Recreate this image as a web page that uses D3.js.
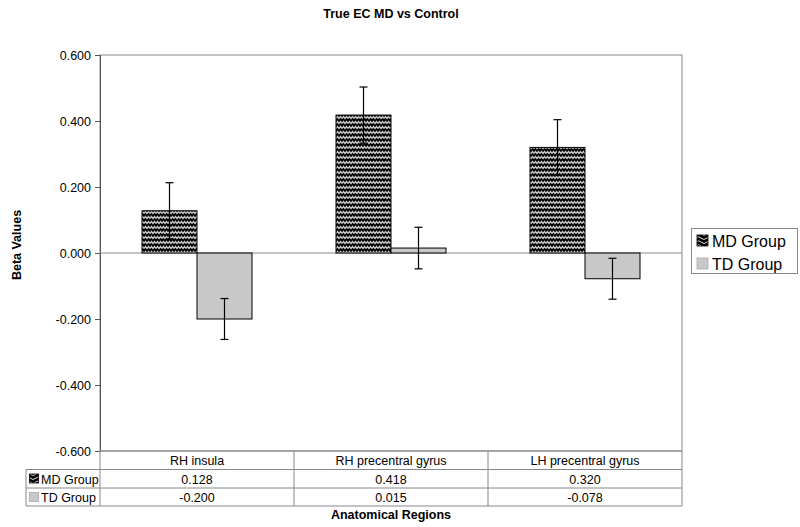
<!DOCTYPE html>
<html>
<head>
<meta charset="utf-8">
<script src="https://cdn.jsdelivr.net/npm/d3@7"></script>
<style>
body{margin:0;background:#fff;}
text{font-family:"Liberation Sans",Arial,sans-serif;}
</style>
</head>
<body>
<svg id="chart" width="800" height="527"></svg>
<script>
const categories = ["RH insula", "RH precentral gyrus", "LH precentral gyrus"];
const seriesNames = ["MD Group", "TD Group"];
const mdValues = [0.128, 0.418, 0.320];
const tdValues = [-0.200, 0.015, -0.078];
const mdErrors = [0.085, 0.085, 0.084];
const tdErrors = [0.062, 0.063, 0.062];
const yTicks = [0.6, 0.4, 0.2, 0.0, -0.2, -0.4, -0.6];

(function(){
const svg = d3.select("#chart");
const pL = 100, pR = 682, pT = 55, pB = 451;
const fmt = v => d3.format(".3f")(v).replace("\u2212","-");

const defs = svg.append("defs");
const pat = defs.append("pattern").attr("id","wave").attr("patternUnits","userSpaceOnUse")
  .attr("width",6).attr("height",5);
pat.append("rect").attr("width",6).attr("height",5).attr("fill","#000");
pat.append("path").attr("d","M0,3.5 L1.5,1.5 L3,3.5 L4.5,1.5 L6,3.5").attr("stroke","#999").attr("stroke-width",1.4).attr("fill","none");
pat.append("path").attr("d","M0,3.5 L1.5,1.5 L3,3.5 L4.5,1.5 L6,3.5").attr("stroke","#fff").attr("stroke-width",0.6).attr("fill","none");

const pat2 = defs.append("pattern").attr("id","chev").attr("patternUnits","userSpaceOnUse")
  .attr("width",11).attr("height",4);
pat2.append("rect").attr("width",11).attr("height",4).attr("fill","#000");
pat2.append("path").attr("d","M0,3.5 L5.5,0.8 L11,3.5").attr("stroke","#ddd").attr("stroke-width",1).attr("fill","none");

const x = d3.scaleBand().domain(categories).range([pL, pR]);
const y = d3.scaleLinear().domain([-0.6, 0.6]).range([pB, pT]);
const barW = 55;

svg.append("rect").attr("x",pL).attr("y",pT).attr("width",pR-pL).attr("height",pB-pT)
  .attr("fill","none").attr("stroke","#888").attr("stroke-width",1);

const yAxis = d3.axisLeft(y).tickValues(yTicks).tickFormat(fmt).tickSize(5).tickPadding(4);
const ga = svg.append("g").attr("transform",`translate(${pL},0)`).call(yAxis);
ga.select(".domain").attr("stroke","#555");
ga.selectAll(".tick line").attr("stroke","#555");
ga.selectAll("text").attr("font-size",12.5).attr("fill","#000").style("font-family","Liberation Sans, Arial, sans-serif");

svg.append("line").attr("x1",pL).attr("x2",pR).attr("y1",y(0)).attr("y2",y(0)).attr("stroke","#888");

const series = [
  {name:seriesNames[0], values:mdValues, errors:mdErrors, fill:"url(#wave)", swatch:"url(#chev)", off:-barW},
  {name:seriesNames[1], values:tdValues, errors:tdErrors, fill:"#c8c8c8", swatch:"#c8c8c8", off:0}
];
series.forEach(s=>{
  const g = svg.append("g");
  categories.forEach((c,i)=>{
    const cx = x(c)+x.bandwidth()/2 + s.off;
    const v = s.values[i];
    g.append("rect").attr("x",cx).attr("width",barW)
      .attr("y",Math.min(y(v),y(0))).attr("height",Math.abs(y(v)-y(0)))
      .attr("fill",s.fill).attr("stroke","#000").attr("stroke-width",1);
  });
});
series.forEach(s=>{
  categories.forEach((c,i)=>{
    const cx = x(c)+x.bandwidth()/2 + s.off + barW/2;
    const v = s.values[i], e = s.errors[i];
    const g = svg.append("g").attr("stroke","#000").attr("stroke-width",1.2);
    g.append("line").attr("x1",cx).attr("x2",cx).attr("y1",y(v+e)).attr("y2",y(v-e));
    g.append("line").attr("x1",cx-4).attr("x2",cx+4).attr("y1",y(v+e)).attr("y2",y(v+e));
    g.append("line").attr("x1",cx-4).attr("x2",cx+4).attr("y1",y(v-e)).attr("y2",y(v-e));
  });
});

const tLeft = 26, rows = [451, 469.5, 488, 506];
const tg = svg.append("g").attr("stroke","#888").attr("stroke-width",1);
rows.slice(1).forEach(r=>tg.append("line").attr("x1",tLeft).attr("x2",pR).attr("y1",r).attr("y2",r));
tg.append("line").attr("x1",pL).attr("x2",pR).attr("y1",rows[0]).attr("y2",rows[0]);
tg.append("line").attr("x1",tLeft).attr("x2",tLeft).attr("y1",rows[1]).attr("y2",rows[3]);
[pL, ...categories.map(c=>x(c)+x.bandwidth())].forEach(xx=>
  tg.append("line").attr("x1",xx).attr("x2",xx).attr("y1",rows[0]).attr("y2",rows[3]));
categories.forEach(c=>{
  svg.append("text").attr("x",x(c)+x.bandwidth()/2).attr("y",rows[0]+14).attr("text-anchor","middle")
    .attr("font-size",12.5).text(c);
});
series.forEach((s,si)=>{
  const ry = rows[si+1];
  svg.append("rect").attr("x",29.5).attr("y",ry+4.5).attr("width",9).attr("height",9)
    .attr("fill",s.swatch).attr("stroke", si===0?"#000":"#aaa").attr("stroke-width",0.8);
  svg.append("text").attr("x",41).attr("y",ry+14).attr("font-size",12.5).text(s.name);
  categories.forEach((c,i)=>{
    svg.append("text").attr("x",x(c)+x.bandwidth()/2).attr("y",ry+14).attr("text-anchor","middle")
      .attr("font-size",12.5).text(fmt(s.values[i]));
  });
});

svg.append("rect").attr("x",691.5).attr("y",228.5).attr("width",106).attr("height",45)
  .attr("fill","#fff").attr("stroke","#888");
series.forEach((s,si)=>{
  const ly = 233 + si*23;
  svg.append("rect").attr("x",697).attr("y",ly+2).attr("width",11).attr("height",11)
    .attr("fill",s.swatch).attr("stroke", si===0?"#000":"#aaa").attr("stroke-width",0.8);
  svg.append("text").attr("x",712).attr("y",ly+14).attr("font-size",16).text(s.name);
});

svg.append("text").attr("x",391).attr("y",18).attr("text-anchor","middle").attr("font-size",12.5)
  .attr("font-weight","bold").text("True EC MD vs Control");
svg.append("text").attr("x",391).attr("y",519).attr("text-anchor","middle").attr("font-size",12.5)
  .attr("font-weight","bold").text("Anatomical Regions");
svg.append("text").attr("transform","translate(21,245) rotate(-90)").attr("text-anchor","middle")
  .attr("font-size",12.5).attr("font-weight","bold").text("Beta Values");
})();
</script>
</body>
</html>
